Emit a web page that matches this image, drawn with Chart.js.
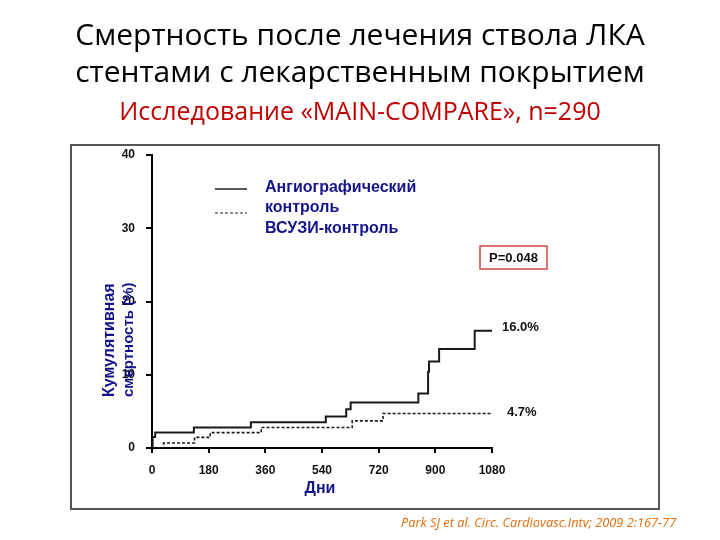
<!DOCTYPE html>
<html>
<head>
<meta charset="utf-8">
<script src="https://cdn.jsdelivr.net/npm/chart.js@4/dist/chart.umd.min.js"></script>
<style>
  body { margin: 0; background: #fff; }
  #wrap { position: relative; width: 720px; height: 540px; overflow: hidden; }
  #chart { position: absolute; left: 0; top: 0; }
  .t { position: absolute; left: 0; width: 720px; text-align: center; white-space: nowrap; }
  #t1 { top: 13px; font: 30px "Open Sans", "Liberation Sans", sans-serif; color: #000; }
  #t2 { top: 50px; font: 30px "Open Sans", "Liberation Sans", sans-serif; color: #000; }
  #t3 { top: 93px; font: 25px "Open Sans", "Liberation Sans", sans-serif; color: #c00000; }
  #cite { position: absolute; left: 401px; top: 513px; font: italic 12.8px "Open Sans", "Liberation Sans", sans-serif; color: #e46c0a; white-space: nowrap; }
</style>
</head>
<body>
<div id="wrap">
  <canvas id="chart" width="720" height="540"></canvas>
  <div class="t" id="t1">Смертность после лечения ствола ЛКА</div>
  <div class="t" id="t2">стентами с лекарственным покрытием</div>
  <div class="t" id="t3">Исследование «MAIN-COMPARE», n=290</div>
  <div id="cite">Park SJ et al. Circ. Cardiovasc.Intv; 2009 2:167-77</div>
</div>
<script>
// Кумулятивная смертность (%), по дням
const angioDays   = [0, 2,   10,  133, 314, 552, 617, 631, 846,  877,  880,  912,  1025, 1080];
const angioValues = [0, 1.5, 2.1, 2.8, 3.5, 4.3, 5.3, 6.2, 7.45, 10.4, 11.8, 13.5, 16.0, 16.0];
const ivusDays    = [0, 37,   135,  185, 347, 636, 734, 1080];
const ivusValues  = [0, 0.68, 1.45, 2.1, 2.8, 3.7, 4.7, 4.7];

const xTicks = [0, 180, 360, 540, 720, 900, 1080];
const yTicks = [0, 10, 20, 30, 40];

const seriesNames = ['Ангиографический контроль', 'ВСУЗИ-контроль'];
const endLabels = ['16.0%', '4.7%'];
const pValue = 'P=0.048';

const toPoints = (xs, ys) => xs.map((x, i) => ({ x: x, y: ys[i] }));

const navy = '#14148a';
const tickFont = { family: '"Liberation Sans", Arial, sans-serif', size: 12, weight: 'bold' };

const extras = {
    id: 'extras',
    beforeDraw(chart) {
        const ctx = chart.ctx;
        ctx.save();
        ctx.fillStyle = '#fff';
        ctx.fillRect(0, 0, chart.width, chart.height);
        // рамка рисунка
        ctx.strokeStyle = '#555';
        ctx.lineWidth = 2;
        ctx.strokeRect(71, 145, 588, 364);
        ctx.restore();
    },
    afterDraw(chart) {
        const ctx = chart.ctx;
        const xs = chart.scales.x, ys = chart.scales.y;
        ctx.save();

        // легенда
        ctx.strokeStyle = '#222';
        ctx.lineWidth = 1.5;
        ctx.beginPath();
        ctx.moveTo(215, 189); ctx.lineTo(247, 189);
        ctx.stroke();
        ctx.setLineDash([3, 2]);
        ctx.lineWidth = 1.2;
        ctx.beginPath();
        ctx.moveTo(215, 213); ctx.lineTo(247, 213);
        ctx.stroke();
        ctx.setLineDash([]);

        ctx.fillStyle = navy;
        ctx.font = 'bold 16px "Liberation Sans", Arial, sans-serif';
        ctx.textAlign = 'left';
        ctx.textBaseline = 'middle';
        const parts = seriesNames[0].split(' ');
        ctx.fillText(parts[0], 265, 188);
        ctx.fillText(parts[1], 265, 208);
        ctx.fillText(seriesNames[1], 265, 229);

        // P
        ctx.strokeStyle = '#d04848';
        ctx.lineWidth = 1.5;
        ctx.strokeRect(480, 246, 67, 23);
        ctx.fillStyle = '#111';
        ctx.font = 'bold 13px "Liberation Sans", Arial, sans-serif';
        ctx.textAlign = 'center';
        ctx.fillText(pValue, 513.5, 258);

        // подписи в конце кривых
        ctx.font = 'bold 13px "Liberation Sans", Arial, sans-serif';
        ctx.textAlign = 'left';
        const xEnd = xs.getPixelForValue(angioDays[angioDays.length - 1]);
        ctx.fillText(endLabels[0], xEnd + 10, ys.getPixelForValue(angioValues[angioValues.length - 1]) - 3);
        ctx.fillText(endLabels[1], xEnd + 15, ys.getPixelForValue(ivusValues[ivusValues.length - 1]) - 1);

        // подписи осей
        ctx.fillStyle = navy;
        ctx.font = 'bold 16px "Liberation Sans", Arial, sans-serif';
        ctx.textAlign = 'center';
        ctx.fillText('Дни', 320, 489);

        ctx.translate(0, 397);
        ctx.rotate(-Math.PI / 2);
        ctx.textAlign = 'left';
        ctx.font = 'bold 16px "Liberation Sans", Arial, sans-serif';
        ctx.fillText('Кумулятивная', 0, 110);
        ctx.font = 'bold 15px "Liberation Sans", Arial, sans-serif';
        ctx.fillText('смертность (%)', 0, 129);
        ctx.restore();
    }
};

new Chart(document.getElementById('chart'), {
    type: 'line',
    data: {
        datasets: [
            {
                label: seriesNames[0],
                data: toPoints(angioDays, angioValues),
                borderColor: '#1a1a1a',
                borderWidth: 2,
                stepped: true,
                pointRadius: 0,
                fill: false,
            },
            {
                label: seriesNames[1],
                data: toPoints(ivusDays, ivusValues),
                borderColor: '#1a1a1a',
                borderWidth: 1.6,
                borderDash: [3, 2],
                stepped: true,
                pointRadius: 0,
                fill: false,
            },
        ],
    },
    options: {
        responsive: false,
        animation: false,
        layout: { padding: { left: 0, top: 155, right: 228, bottom: 0 } },
        plugins: {
            legend: { display: false },
            tooltip: { enabled: false },
        },
        scales: {
            x: {
                type: 'linear',
                min: 0,
                max: 1080,
                afterFit: (scale) => { scale.height = 92; },
                afterBuildTicks: (scale) => { scale.ticks = xTicks.map(v => ({ value: v })); },
                ticks: { color: '#111', font: tickFont, padding: 10, maxRotation: 0, callback: (v) => String(v) },
                grid: { drawOnChartArea: false, drawTicks: true, tickLength: 5, color: '#000', lineWidth: 2 },
                border: { display: true, color: '#000', width: 2 },
            },
            y: {
                min: 0,
                max: 40,
                afterFit: (scale) => { scale.width = 152; },
                afterBuildTicks: (scale) => { scale.ticks = yTicks.map(v => ({ value: v })); },
                ticks: { color: '#111', font: tickFont, padding: 11, callback: (v) => String(v) },
                grid: { drawOnChartArea: false, drawTicks: true, tickLength: 6, color: '#000', lineWidth: 2 },
                border: { display: true, color: '#000', width: 2 },
            },
        },
    },
    plugins: [extras],
});
</script>
</body>
</html>
